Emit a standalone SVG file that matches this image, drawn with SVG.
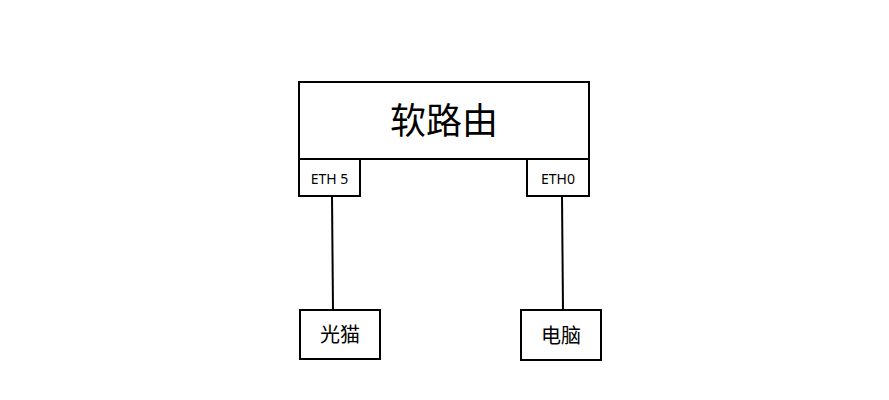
<svg xmlns="http://www.w3.org/2000/svg" width="889" height="400" viewBox="0 0 889 400">
<style>
rect{fill:#fff;stroke:#000;stroke-width:2}
line{stroke:#000;stroke-width:2}
text{font-family:"Noto Sans","Noto Sans CJK SC",sans-serif;fill:#000;text-anchor:middle;dominant-baseline:central}
</style>
<rect x="0" y="0" width="889" height="400" style="stroke:none"/>
<g id="connectors">
<line x1="332" y1="196" x2="333" y2="310"/>
<line x1="562" y1="196" x2="563" y2="310"/>
</g>
<g id="router"><rect x="299" y="82" width="290" height="77"/><text x="444" y="120" font-size="36">软路由</text></g>
<g id="eth5"><rect x="299" y="159" width="61" height="37"/><text x="329.5" y="178" font-size="14">ETH 5</text></g>
<g id="eth0"><rect x="527" y="159" width="62" height="37"/><text x="558" y="178" font-size="14">ETH0</text></g>
<g id="modem"><rect x="300" y="310" width="80" height="49"/><text x="340" y="334" font-size="20">光猫</text></g>
<g id="pc"><rect x="521" y="310" width="80" height="50"/><text x="561" y="335" font-size="20">电脑</text></g>
</svg>
